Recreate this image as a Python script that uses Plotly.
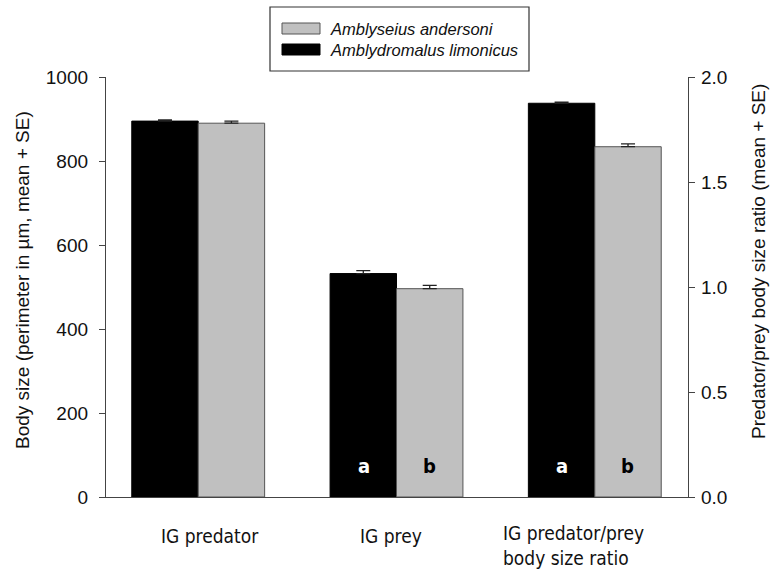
import plotly.graph_objects as go

# ---- data ----
categories = ["IG predator", "IG prey", "IG predator/prey body size ratio"]
series_names = ["Amblydromalus limonicus", "Amblyseius andersoni"]
limonicus_mean = [895, 532, 1.875]
limonicus_se = [3, 7, 0.005]
andersoni_mean = [890, 496, 1.668]
andersoni_se = [5, 8, 0.014]
limonicus_letters = ["", "a", "a"]
andersoni_letters = ["", "b", "b"]
left_ticks = [0, 200, 400, 600, 800, 1000]
right_ticks = [0.0, 0.5, 1.0, 1.5, 2.0]

# ---- layout geometry (pixels) ----
W, H = 773, 569
L, R, T, B = 106, 688, 77, 497
pw, ph = R - L, B - T


def px(x):
    return (x - L) / pw


def py(y):
    return (B - y) / ph


FONT = "Arial"
NARROW = "DejaVu Sans Condensed"
BLACK = "#000000"
GRAY = "#c0c0c0"
EDGE = "#555555"

fig = go.Figure()

x_idx = list(range(len(categories)))
for name, means, ses, color, line_c, og in [
    (series_names[0], limonicus_mean, limonicus_se, BLACK, BLACK, "a"),
    (series_names[1], andersoni_mean, andersoni_se, GRAY, EDGE, "b"),
]:
    fig.add_trace(go.Bar(
        x=x_idx[:2], y=means[:2], name=name, offsetgroup=og,
        marker=dict(color=color, line=dict(color=line_c, width=1)),
        error_y=dict(type="data", symmetric=False, array=ses[:2], arrayminus=[0, 0],
                     color="#222222", thickness=1.3, width=7),
        showlegend=False, yaxis="y"))
    fig.add_trace(go.Bar(
        x=x_idx[2:], y=means[2:], name=name, offsetgroup=og,
        marker=dict(color=color, line=dict(color=line_c, width=1)),
        error_y=dict(type="data", symmetric=False, array=ses[2:], arrayminus=[0],
                     color="#222222", thickness=1.3, width=7),
        showlegend=False, yaxis="y2"))

axis_line = dict(showline=True, linecolor="#444444", linewidth=1.3, ticks="outside",
                 ticklen=6, tickcolor="#444444", tickwidth=1.3, showgrid=False,
                 zeroline=False, tickfont=dict(family=FONT, size=19, color="#111111"))

fig.update_layout(
    width=W, height=H,
    margin=dict(l=L, r=W - R, t=T, b=H - B, pad=0),
    paper_bgcolor="white", plot_bgcolor="white",
    barmode="group", bargap=0.33, bargroupgap=0,
    showlegend=False,
    xaxis=dict(range=[-0.465, 2.47], showline=True, linecolor="#444444", linewidth=1.3,
               showticklabels=False, ticks="", showgrid=False, zeroline=False,
               tickvals=x_idx),
    yaxis=dict(range=[0, 1000], tickvals=left_ticks, ticklabelstandoff=7, **axis_line),
    yaxis2=dict(range=[0, 2], tickvals=right_ticks, tickformat=".1f", overlaying="y",
                side="right", ticklabelstandoff=2, **axis_line),
)

ann = []
cat_font = dict(family=NARROW, size=19, color="#111111")
ann.append(dict(x=0, y=py(536), xref="x", yref="paper", text=categories[0],
                xshift=12, showarrow=False, xanchor="center", yanchor="middle", font=cat_font))
ann.append(dict(x=1, y=py(536), xref="x", yref="paper", text=categories[1],
                xshift=-6, showarrow=False, xanchor="center", yanchor="middle", font=cat_font))
ann.append(dict(x=2, y=py(545), xref="x", yref="paper",
                text=categories[2].replace("prey body", "prey<br>body"),
                xshift=-94, showarrow=False, xanchor="left", yanchor="middle", align="left",
                font=cat_font))
# significance letters
for i in x_idx:
    if limonicus_letters[i]:
        ann.append(dict(x=i, y=py(466), xref="x", yref="paper", text="<b>%s</b>" % limonicus_letters[i],
                        xshift=-33, showarrow=False, xanchor="center", yanchor="middle",
                        font=dict(family=NARROW, size=20, color="white")))
    if andersoni_letters[i]:
        ann.append(dict(x=i, y=py(466), xref="x", yref="paper", text="<b>%s</b>" % andersoni_letters[i],
                        xshift=33, showarrow=False, xanchor="center", yanchor="middle",
                        font=dict(family=NARROW, size=20, color="black")))
# axis titles
ann.append(dict(x=px(22), y=py(280), xref="paper", yref="paper", showarrow=False,
                xanchor="center", yanchor="middle",
                text="Body size (perimeter in µm, mean + SE)", textangle=-90,
                font=dict(family=FONT, size=19, color="#111111")))
ann.append(dict(x=px(758), y=py(262), xref="paper", yref="paper", showarrow=False,
                xanchor="center", yanchor="middle",
                text="Predator/prey body size ratio (mean + SE)", textangle=-90,
                font=dict(family=FONT, size=19, color="#111111")))
# manual legend
shapes = [
    dict(type="rect", xref="paper", yref="paper", x0=px(270), x1=px(529), y0=py(71), y1=py(7),
         line=dict(color="#333333", width=1.2), fillcolor="white", layer="above"),
    dict(type="rect", xref="paper", yref="paper", x0=px(282), x1=px(320), y0=py(34), y1=py(23),
         line=dict(color=EDGE, width=1), fillcolor=GRAY, layer="above"),
    dict(type="rect", xref="paper", yref="paper", x0=px(282), x1=px(320), y0=py(55), y1=py(44),
         line=dict(color=BLACK, width=1), fillcolor=BLACK, layer="above"),
]
ann.append(dict(x=px(328), y=py(29), xref="paper", yref="paper", showarrow=False,
                xanchor="left", yanchor="middle", text="<i>%s</i>" % series_names[1],
                font=dict(family=FONT, size=16.5, color="#111111")))
ann.append(dict(x=px(328), y=py(50), xref="paper", yref="paper", showarrow=False,
                xanchor="left", yanchor="middle", text="<i>%s</i>" % series_names[0],
                font=dict(family=FONT, size=16.5, color="#111111")))

fig.update_layout(annotations=ann, shapes=shapes)
fig.write_html("out.html")
